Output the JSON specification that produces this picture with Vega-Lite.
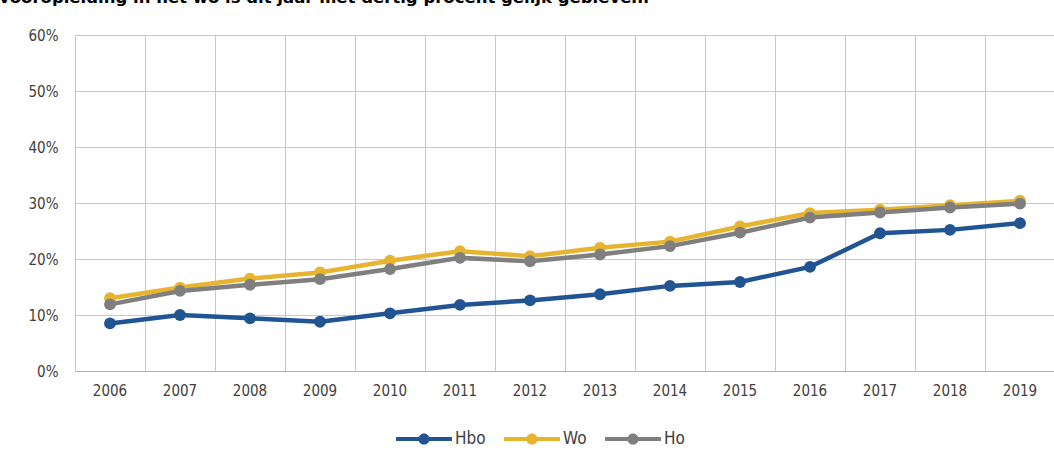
{
  "$schema": "https://vega.github.io/schema/vega-lite/v6.json",
  "width": 980,
  "height": 336,
  "autosize": {"type": "none"},
  "padding": {"left": 75, "top": 35, "right": 0, "bottom": 84},
  "background": "white",
  "title": {
    "text": "vooropleiding in het wo is dit jaar met dertig procent gelijk gebleven.",
    "anchor": "start",
    "frame": "group",
    "dx": -76,
    "offset": 9,
    "font": "DejaVu Sans",
    "fontSize": 16.5,
    "fontWeight": "bold",
    "color": "#000000",
    "baseline": "alphabetic"
  },
  "data": {
    "values": [
      {"jaar": "2006", "soort": "Hbo", "aandeel": 0.085},
      {"jaar": "2007", "soort": "Hbo", "aandeel": 0.100},
      {"jaar": "2008", "soort": "Hbo", "aandeel": 0.094},
      {"jaar": "2009", "soort": "Hbo", "aandeel": 0.088},
      {"jaar": "2010", "soort": "Hbo", "aandeel": 0.103},
      {"jaar": "2011", "soort": "Hbo", "aandeel": 0.118},
      {"jaar": "2012", "soort": "Hbo", "aandeel": 0.126},
      {"jaar": "2013", "soort": "Hbo", "aandeel": 0.137},
      {"jaar": "2014", "soort": "Hbo", "aandeel": 0.152},
      {"jaar": "2015", "soort": "Hbo", "aandeel": 0.159},
      {"jaar": "2016", "soort": "Hbo", "aandeel": 0.186},
      {"jaar": "2017", "soort": "Hbo", "aandeel": 0.246},
      {"jaar": "2018", "soort": "Hbo", "aandeel": 0.252},
      {"jaar": "2019", "soort": "Hbo", "aandeel": 0.264},
      {"jaar": "2006", "soort": "Wo", "aandeel": 0.130},
      {"jaar": "2007", "soort": "Wo", "aandeel": 0.149},
      {"jaar": "2008", "soort": "Wo", "aandeel": 0.165},
      {"jaar": "2009", "soort": "Wo", "aandeel": 0.176},
      {"jaar": "2010", "soort": "Wo", "aandeel": 0.197},
      {"jaar": "2011", "soort": "Wo", "aandeel": 0.214},
      {"jaar": "2012", "soort": "Wo", "aandeel": 0.205},
      {"jaar": "2013", "soort": "Wo", "aandeel": 0.220},
      {"jaar": "2014", "soort": "Wo", "aandeel": 0.231},
      {"jaar": "2015", "soort": "Wo", "aandeel": 0.258},
      {"jaar": "2016", "soort": "Wo", "aandeel": 0.282},
      {"jaar": "2017", "soort": "Wo", "aandeel": 0.288},
      {"jaar": "2018", "soort": "Wo", "aandeel": 0.296},
      {"jaar": "2019", "soort": "Wo", "aandeel": 0.304},
      {"jaar": "2006", "soort": "Ho", "aandeel": 0.119},
      {"jaar": "2007", "soort": "Ho", "aandeel": 0.143},
      {"jaar": "2008", "soort": "Ho", "aandeel": 0.154},
      {"jaar": "2009", "soort": "Ho", "aandeel": 0.164},
      {"jaar": "2010", "soort": "Ho", "aandeel": 0.182},
      {"jaar": "2011", "soort": "Ho", "aandeel": 0.202},
      {"jaar": "2012", "soort": "Ho", "aandeel": 0.196},
      {"jaar": "2013", "soort": "Ho", "aandeel": 0.208},
      {"jaar": "2014", "soort": "Ho", "aandeel": 0.223},
      {"jaar": "2015", "soort": "Ho", "aandeel": 0.247},
      {"jaar": "2016", "soort": "Ho", "aandeel": 0.274},
      {"jaar": "2017", "soort": "Ho", "aandeel": 0.283},
      {"jaar": "2018", "soort": "Ho", "aandeel": 0.292},
      {"jaar": "2019", "soort": "Ho", "aandeel": 0.299}
    ]
  },
  "encoding": {
    "x": {
      "field": "jaar",
      "type": "ordinal",
      "scale": {"type": "band", "paddingInner": 0, "paddingOuter": 0},
      "axis": {
        "title": null,
        "labelAngle": 0,
        "bandPosition": 0,
        "grid": true,
        "gridColor": "#c8c8c8",
        "gridWidth": 1,
        "ticks": false,
        "domainColor": "#b0b0b0",
        "labelPadding": 12,
        "labelFont": "DejaVu Sans Condensed",
        "labelFontSize": 15,
        "labelColor": "#404040"
      }
    },
    "y": {
      "field": "aandeel",
      "type": "quantitative",
      "scale": {"domain": [0, 0.6], "nice": false},
      "axis": {
        "title": null,
        "format": ".0%",
        "values": [0, 0.1, 0.2, 0.3, 0.4, 0.5, 0.6],
        "grid": true,
        "gridColor": "#c8c8c8",
        "gridWidth": 1,
        "ticks": false,
        "domain": false,
        "labelPadding": 17,
        "labelFont": "DejaVu Sans Condensed",
        "labelFontSize": 15,
        "labelColor": "#404040"
      }
    },
    "color": {
      "field": "soort",
      "type": "nominal",
      "sort": ["Hbo", "Wo", "Ho"],
      "scale": {"domain": ["Hbo", "Wo", "Ho"], "range": ["#215493", "#e6b42e", "#7f7f7f"]},
      "legend": {
        "title": null,
        "orient": "none",
        "direction": "horizontal",
        "legendX": 321,
        "legendY": 376,
        "symbolType": "M-1,-0.07 L1,-0.07 L1,0.07 L-1,0.07 Z M0.2,0 A0.2,0.2 0 1 1 -0.2,0 A0.2,0.2 0 1 1 0.2,0 Z",
        "symbolSize": 3136,
        "symbolStrokeWidth": 0,
        "labelFont": "DejaVu Sans Condensed",
        "labelFontSize": 17,
        "labelColor": "#404040",
        "labelOffset": 3,
        "columnPadding": 18
      }
    }
  },
  "layer": [
    {"mark": {"type": "line", "strokeWidth": 4.5}},
    {"mark": {"type": "point", "filled": true, "size": 140, "opacity": 1}}
  ]
}
